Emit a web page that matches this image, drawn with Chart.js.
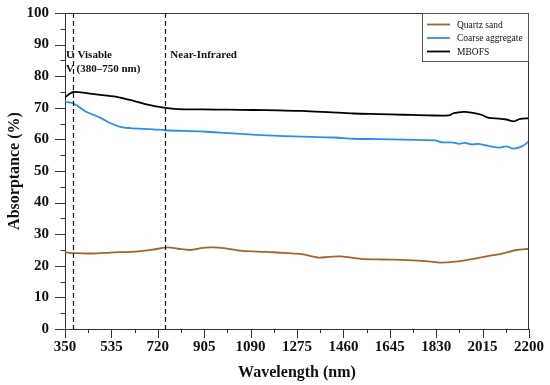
<!DOCTYPE html>
<html>
<head>
<meta charset="utf-8">
<script src="https://cdn.jsdelivr.net/npm/chart.js@4"></script>
<style>
  html, body { margin: 0; padding: 0; background: #fff; }
  #wrap { width: 550px; height: 385px; }
</style>
</head>
<body>
<div id="wrap"><canvas id="c" width="550" height="385"></canvas></div>
<script>
// values
var sandWl   = [350, 366, 400, 461, 530, 631, 700, 758, 800, 849, 900, 936, 982, 1055, 1150, 1239, 1293, 1359, 1400, 1451, 1530, 1620, 1714, 1800, 1847, 1906, 1978, 2030, 2085, 2150, 2200];
var sandVal  = [24.3, 24.1, 24.0, 23.9, 24.2, 24.5, 25.1, 25.8, 25.4, 25.0, 25.7, 25.8, 25.6, 24.7, 24.4, 24.0, 23.7, 22.6, 22.8, 23.0, 22.2, 22.0, 21.8, 21.4, 21.0, 21.3, 22.2, 23.0, 23.7, 25.0, 25.4];

var aggWl    = [350, 380, 400, 430, 450, 490, 530, 570, 610, 700, 750, 900, 1000, 1100, 1200, 1293, 1424, 1500, 1600, 1700, 1828, 1850, 1900, 1920, 1945, 1970, 2000, 2040, 2085, 2110, 2137, 2170, 2200];
var aggVal   = [71.9, 71.5, 70.6, 68.9, 68.2, 66.9, 65.2, 64.0, 63.6, 63.2, 62.9, 62.5, 62.0, 61.5, 61.1, 60.9, 60.6, 60.2, 60.1, 59.9, 59.7, 59.1, 59.0, 58.6, 58.9, 58.4, 58.6, 57.9, 57.4, 57.8, 57.1, 57.7, 59.4];

var mbofsWl  = [350, 370, 385, 420, 500, 560, 620, 680, 750, 800, 900, 1000, 1100, 1200, 1293, 1400, 1500, 1600, 1700, 1800, 1880, 1900, 1940, 1970, 2010, 2040, 2080, 2110, 2140, 2165, 2200];
var mbofsVal = [73.3, 74.5, 75.0, 74.8, 74.0, 73.4, 72.3, 71.0, 70.0, 69.6, 69.5, 69.4, 69.3, 69.2, 69.0, 68.6, 68.2, 68.0, 67.8, 67.6, 67.6, 68.3, 68.7, 68.5, 67.8, 66.8, 66.6, 66.3, 65.7, 66.5, 66.7];

var seriesNames  = ["Quartz sand", "Coarse aggregate", "MBOFS"];
var seriesColors = ["#a5642e", "#2a8ff0", "#000000"];
var xTicks = [350, 535, 720, 905, 1090, 1275, 1460, 1645, 1830, 2015, 2200];
var regionLines = [380, 750];

var serif = "'Liberation Serif', 'Times New Roman', serif";

function pts(xs, ys) {
  var out = [];
  for (var i = 0; i < xs.length; i++) out.push({x: xs[i], y: ys[i]});
  return out;
}

function mkSet(i, xs, ys) {
  return {
    label: seriesNames[i],
    data: pts(xs, ys),
    borderColor: seriesColors[i],
    backgroundColor: seriesColors[i],
    borderWidth: 1.8,
    pointRadius: 0,
    showLine: true,
    tension: 0.3
  };
}

// frame, minor/major ticks, dashed region lines, notes and the boxed legend
var extras = {
  id: "extras",
  afterDraw: function(chart) {
    var ctx = chart.ctx;
    var a = chart.chartArea;
    var xs = chart.scales.x, ys = chart.scales.y;
    var i, p;
    ctx.save();
    ctx.strokeStyle = "#333";
    ctx.lineWidth = 1;
    ctx.beginPath();
    ctx.moveTo(a.left, a.top + 0.5); ctx.lineTo(a.right, a.top + 0.5);
    ctx.moveTo(a.right - 0.5, a.top); ctx.lineTo(a.right - 0.5, a.bottom);
    // x ticks
    for (i = 0; i < xTicks.length; i++) {
      p = Math.round(xs.getPixelForValue(xTicks[i])) + 0.5;
      ctx.moveTo(p, a.bottom); ctx.lineTo(p, a.bottom + 9);
      if (i < xTicks.length - 1) {
        p = Math.round(xs.getPixelForValue((xTicks[i] + xTicks[i + 1]) / 2)) + 0.5;
        ctx.moveTo(p, a.bottom); ctx.lineTo(p, a.bottom + 4);
      }
    }
    // y ticks
    for (i = 0; i <= 100; i += 5) {
      p = Math.round(ys.getPixelForValue(i)) + 0.5;
      ctx.moveTo(a.left, p); ctx.lineTo(a.left - (i % 10 === 0 ? 10 : 4.5), p);
    }
    ctx.stroke();

    // dashed boundaries
    ctx.strokeStyle = "#111";
    ctx.lineWidth = 1.2;
    ctx.setLineDash([5, 3]);
    ctx.beginPath();
    for (i = 0; i < regionLines.length; i++) {
      p = Math.round(xs.getPixelForValue(regionLines[i])) + 0.5;
      ctx.moveTo(p, a.top); ctx.lineTo(p, a.bottom);
    }
    ctx.stroke();
    ctx.setLineDash([]);

    // region notes
    ctx.fillStyle = "#111";
    ctx.font = "bold 11px " + serif;
    ctx.textBaseline = "middle";
    ctx.textAlign = "left";
    var x1 = xs.getPixelForValue(regionLines[0]);
    var x2 = xs.getPixelForValue(regionLines[1]);
    ctx.fillText("U", a.left + 1, 55);
    ctx.fillText("V", a.left + 1, 69);
    ctx.fillText("Visable", x1 + 5, 55);
    ctx.fillText("(380\u2013750 nm)", x1 + 4, 69);
    ctx.fillText("Near-Infrared", x2 + 5, 55);

    // legend box
    var lx = 422, ly = a.top, lw = a.right - lx, lh = 61 - a.top;
    ctx.fillStyle = "#fff";
    ctx.fillRect(lx, ly, lw, lh);
    ctx.strokeStyle = "#555";
    ctx.lineWidth = 1;
    ctx.strokeRect(lx + 0.5, ly + 0.5, lw - 1, lh);
    ctx.font = "9.5px " + serif;
    var rows = [24.5, 38, 51.5];
    for (i = 0; i < seriesNames.length; i++) {
      ctx.strokeStyle = seriesColors[i];
      ctx.lineWidth = 1.8;
      ctx.beginPath();
      ctx.moveTo(427, rows[i]); ctx.lineTo(450, rows[i]);
      ctx.stroke();
      ctx.fillStyle = "#111";
      ctx.fillText(seriesNames[i], 457, rows[i] + 0.5);
    }
    ctx.restore();
  }
};

new Chart(document.getElementById("c"), {
  type: "scatter",
  data: {
    datasets: [
      mkSet(0, sandWl, sandVal),
      mkSet(1, aggWl, aggVal),
      mkSet(2, mbofsWl, mbofsVal)
    ]
  },
  options: {
    responsive: false,
    animation: false,
    layout: { padding: { top: 13, right: 21, left: 0, bottom: 0 } },
    plugins: {
      legend: { display: false },
      tooltip: { enabled: false }
    },
    scales: {
      x: {
        type: "linear",
        min: 350,
        max: 2200,
        afterBuildTicks: function(s) { s.ticks = xTicks.map(function(v) { return {value: v}; }); },
        afterFit: function(s) { s.height = 56; s.paddingLeft = 0; s.paddingRight = 0; },
        ticks: {
          color: "#111",
          padding: 9,
          maxRotation: 0,
          autoSkip: false,
          callback: function(v) { return String(v); },
          font: { family: serif, size: 15, weight: "bold" }
        },
        grid: { display: false, drawTicks: false },
        border: { display: true, color: "#333", width: 1 },
        title: {
          display: true,
          text: "Wavelength (nm)",
          color: "#111",
          padding: { bottom: 3, top: 0 },
          font: { family: serif, size: 16, weight: "bold" }
        }
      },
      y: {
        min: 0,
        max: 100,
        afterFit: function(s) { s.width = 65; s.paddingTop = 0; s.paddingBottom = 0; },
        ticks: {
          stepSize: 10,
          color: "#111",
          padding: 16,
          font: { family: serif, size: 15, weight: "bold" }
        },
        grid: { display: false, drawTicks: false },
        border: { display: true, color: "#333", width: 1 },
        title: {
          display: true,
          text: "Absorptance (%)",
          color: "#111",
          padding: { top: 5, bottom: 0 },
          font: { family: serif, size: 16, weight: "bold" }
        }
      }
    }
  },
  plugins: [extras]
});
</script>
</body>
</html>
